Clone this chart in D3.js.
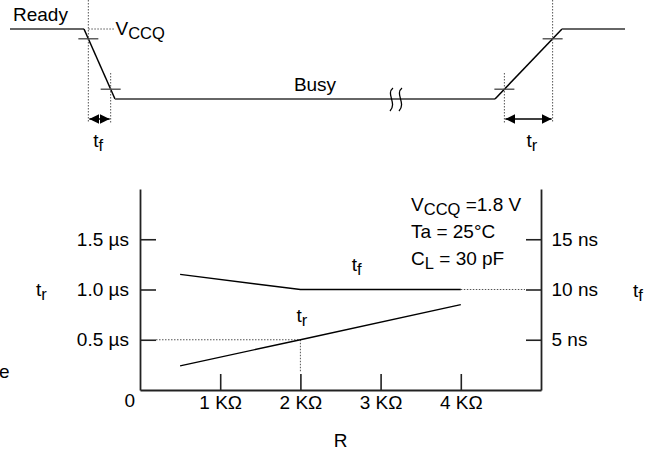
<!DOCTYPE html>
<html><head><meta charset="utf-8">
<script src="https://cdn.jsdelivr.net/npm/d3@7"></script>
<style>
body{margin:0;background:#fff}
text{font-family:"Liberation Sans",Arial,Helvetica,sans-serif;font-size:19px;fill:#000}
.sub{font-size:16.5px}
</style></head><body>
<svg id="c" width="648" height="458"></svg>
<script>
// ---- Timing waveform of the Ready/Busy output (arbitrary time units) ----
const waveTimes  = [0, 14.8, 21, 97, 110.4, 123];
const waveLevels = [1, 1, 0, 0, 1, 1];          // 1 = Ready (high), 0 = Busy (low)
const upperThreshold = 0.86;                    // measurement points on the edges
const lowerThreshold = 0.14;
const breakTime = 77.2;                         // time-axis break in the Busy period

// ---- Rise / fall time versus pull-up resistance ----
const resistanceKOhm = [0.5, 2, 4];
const tfNs = [11.5, 10, 10];                    // fall time, right axis (ns)
const trUs = [0.24, 0.5, 0.85];                 // rise time, left axis (µs)
const xTickValues = [1, 2, 3, 4];
const leftTickValues = [0.5, 1.0, 1.5];
const rightTickValues = [5, 10, 15];
const conditions = [
  {main: "V", sub: "CCQ", rest: " =1.8 V"},
  {main: "Ta = 25°C", sub: "", rest: ""},
  {main: "C", sub: "L", rest: " = 30 pF"}
];

const svg = d3.select("#c");
const defs = svg.append("defs");
defs.append("marker").attr("id", "ah")
  .attr("viewBox", "0 0 10 10").attr("refX", 10).attr("refY", 5)
  .attr("markerWidth", 10).attr("markerHeight", 10)
  .attr("markerUnits", "userSpaceOnUse")
  .attr("orient", "auto-start-reverse")
  .append("path").attr("d", "M0,0L10,5L0,10Z").attr("fill", "#000");

// "t" with a subscript
function subLabel(g, x, y, main, sub, anchor) {
  const t = g.append("text").attr("x", x).attr("y", y).attr("text-anchor", anchor || "start");
  t.append("tspan").text(main);
  t.append("tspan").attr("class", "sub").attr("dy", 3.5).text(sub);
  return t;
}

// ================= Waveform =================
const tx = d3.scaleLinear().domain([0, 123]).range([10, 625]);
const ly = d3.scaleLinear().domain([0, 1]).range([99, 29]);
const wave = svg.append("g");

const segs = d3.pairs(d3.range(waveTimes.length));
segs.forEach(([a, b]) => {
  const edge = waveLevels[a] !== waveLevels[b];
  wave.append("line")
    .attr("x1", tx(waveTimes[a])).attr("y1", ly(waveLevels[a]))
    .attr("x2", tx(waveTimes[b])).attr("y2", ly(waveLevels[b]))
    .attr("stroke", edge ? "#000" : "#666")
    .attr("stroke-width", edge ? 1.5 : 2.2);
});

// time at which an edge passes a given level
function crossing(a, b, L) {
  return waveTimes[a] + (L - waveLevels[a]) / (waveLevels[b] - waveLevels[a]) * (waveTimes[b] - waveTimes[a]);
}
const edges = segs.filter(([a, b]) => waveLevels[a] !== waveLevels[b]);
const guideBottom = 123, arrowY = 119;
edges.forEach(([a, b], i) => {
  const tu = crossing(a, b, upperThreshold), tl = crossing(a, b, lowerThreshold);
  // threshold tick marks
  [[tu, upperThreshold], [tl, lowerThreshold]].forEach(([t, L]) => {
    wave.append("line").attr("x1", tx(t) - 10).attr("x2", tx(t) + 10)
      .attr("y1", ly(L)).attr("y2", ly(L)).attr("stroke", "#444").attr("stroke-width", 1.3);
  });
  // dotted guides
  wave.append("line").attr("x1", tx(tu)).attr("x2", tx(tu)).attr("y1", 0).attr("y2", guideBottom)
    .attr("stroke", "#555").attr("stroke-width", 1).attr("stroke-dasharray", "1.5,1.5");
  wave.append("line").attr("x1", tx(tl)).attr("x2", tx(tl)).attr("y1", 73).attr("y2", guideBottom)
    .attr("stroke", "#555").attr("stroke-width", 1).attr("stroke-dasharray", "1.5,1.5");
  // measurement arrow
  const left = tx(Math.min(tu, tl)), right = tx(Math.max(tu, tl));
  wave.append("line").attr("x1", left + 1).attr("x2", right - 1)
    .attr("y1", arrowY).attr("y2", arrowY).attr("stroke", "#000").attr("stroke-width", 1.5)
    .attr("marker-start", "url(#ah)").attr("marker-end", "url(#ah)");
  subLabel(wave, i === 0 ? left + 5 : (left + right) / 2 - 2, 147, "t", i === 0 ? "f" : "r");
  if (i === 0) {
    // V_CCQ reference level
    wave.append("line").attr("x1", tx(tu)).attr("x2", tx(waveTimes[b]))
      .attr("y1", ly(1)).attr("y2", ly(1))
      .attr("stroke", "#555").attr("stroke-width", 1).attr("stroke-dasharray", "1.5,1.5");
    const v = wave.append("text").attr("x", tx(waveTimes[b]) + 0.5).attr("y", 35);
    v.append("tspan").text("V");
    v.append("tspan").attr("class", "sub").attr("dy", 3.5).text("CCQ");
  }
});

// break marks in the Busy period
[-4.5, 4.5].forEach(off => {
  const x = tx(breakTime) + off, y0 = ly(0);
  wave.append("path")
    .attr("d", `M${x + 1.5},${y0 - 11} C${x - 6},${y0 - 5} ${x + 6},${y0 + 4} ${x - 1.5},${y0 + 12}`)
    .attr("fill", "none").attr("stroke", "#000").attr("stroke-width", 1.3);
});
wave.append("text").attr("x", 13).attr("y", 21).text("Ready");
wave.append("text").attr("x", tx(61)).attr("y", 91).attr("text-anchor", "middle").text("Busy");

// ================= Graph =================
const x = d3.scaleLinear().domain([0, 5]).range([140, 541]);
const yL = d3.scaleLinear().domain([0, 2]).range([390, 189]);
const yR = d3.scaleLinear().domain([0, 20]).range([390, 189]);
const gr = svg.append("g");

function styleAxis(g) {
  g.select(".domain").attr("stroke", "#222").attr("stroke-width", 1.8);
  g.selectAll(".tick line").attr("stroke", "#222").attr("stroke-width", 1.6);
  g.selectAll(".tick text").attr("fill", "#000");
  g.attr("font-family", null).attr("font-size", null);
}
gr.append("g").attr("transform", `translate(${x(0)},0)`)
  .call(d3.axisLeft(yL).tickValues(leftTickValues).tickSizeInner(-16).tickSizeOuter(0).tickPadding(11)
    .tickFormat(d => d3.format(".1f")(d) + " \u00b5s"))
  .call(styleAxis);
gr.append("g").attr("transform", `translate(${x(5)},0)`)
  .call(d3.axisRight(yR).tickValues(rightTickValues).tickSizeInner(-15).tickSizeOuter(0).tickPadding(10.5)
    .tickFormat(d => d + " ns"))
  .call(styleAxis);
gr.append("g").attr("transform", `translate(0,${yL(0)})`)
  .call(d3.axisBottom(x).tickValues(xTickValues).tickSizeInner(-16).tickSizeOuter(0).tickPadding(5.5)
    .tickFormat(d => d + " K\u03a9"))
  .call(styleAxis);

gr.append("text").attr("x", x(0) - 5).attr("y", 407).attr("text-anchor", "end").text("0");

// reference guides at R = 2 KΩ
const dotted = sel => sel.attr("stroke", "#555").attr("stroke-width", 1).attr("stroke-dasharray", "1.5,1.5");
gr.append("line").attr("x1", x(0) + 16).attr("x2", x(resistanceKOhm[1]))
  .attr("y1", yL(trUs[1])).attr("y2", yL(trUs[1])).call(dotted);
gr.append("line").attr("x1", x(resistanceKOhm[1])).attr("x2", x(resistanceKOhm[1]))
  .attr("y1", yL(trUs[1])).attr("y2", yL(0) - 18).call(dotted);
// tf continuation to the right axis
gr.append("line").attr("x1", x(resistanceKOhm[2])).attr("x2", x(5) - 16)
  .attr("y1", yR(tfNs[2])).attr("y2", yR(tfNs[2])).call(dotted);

const lineTf = d3.line().x((d, i) => x(resistanceKOhm[i])).y(d => yR(d));
const lineTr = d3.line().x((d, i) => x(resistanceKOhm[i])).y(d => yL(d));
gr.append("path").attr("d", lineTf(tfNs)).attr("fill", "none").attr("stroke", "#000").attr("stroke-width", 1.4);
gr.append("path").attr("d", lineTr(trUs)).attr("fill", "none").attr("stroke", "#000").attr("stroke-width", 1.4);

subLabel(gr, x(2.64), 271, "t", "f");
subLabel(gr, x(1.95), 322, "t", "r");
subLabel(gr, 36, 296, "t", "r");
subLabel(gr, 633, 297, "t", "f");
gr.append("text").attr("x", -1).attr("y", 378).text("e");
gr.append("text").attr("x", x(2.5)).attr("y", 447).attr("text-anchor", "middle").text("R");

conditions.forEach((c, i) => {
  const t = gr.append("text").attr("x", x(3.38)).attr("y", 211 + i * 27);
  t.append("tspan").text(c.main);
  if (c.sub) {
    t.append("tspan").attr("class", "sub").attr("dy", 3.5).text(c.sub);
    t.append("tspan").attr("dy", -3.5).text(c.rest);
  }
});
</script>
</body></html>
